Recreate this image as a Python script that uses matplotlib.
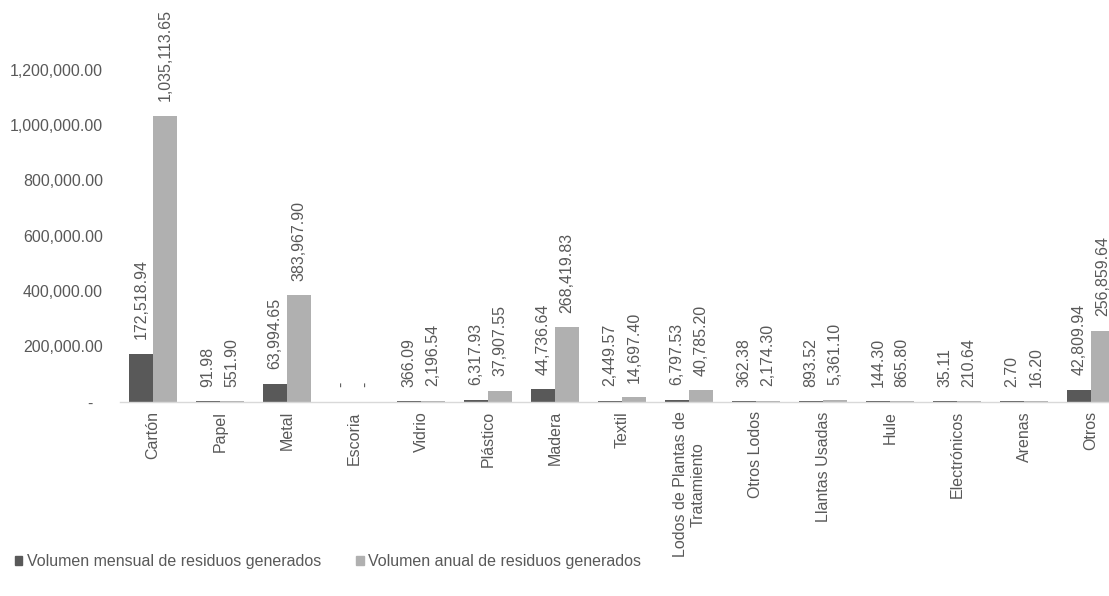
import matplotlib
matplotlib.use("Agg")
import matplotlib.pyplot as plt
from matplotlib.patches import Patch
from matplotlib.ticker import FuncFormatter
import numpy as np

categories = ["Cartón", "Papel", "Metal", "Escoria", "Vidrio", "Plástico", "Madera",
              "Textil", "Lodos de Plantas de\nTratamiento", "Otros Lodos", "Llantas Usadas",
              "Hule", "Electrónicos", "Arenas", "Otros"]
mensual = [172518.94, 91.98, 63994.65, 0, 366.09, 6317.93, 44736.64, 2449.57,
           6797.53, 362.38, 893.52, 144.30, 35.11, 2.70, 42809.94]
anual = [1035113.65, 551.90, 383967.90, 0, 2196.54, 37907.55, 268419.83, 14697.40,
         40785.20, 2174.30, 5361.10, 865.80, 210.64, 16.20, 256859.64]
series_names = ["Volumen mensual de residuos generados", "Volumen anual de residuos generados"]
yticks = [0, 200000, 400000, 600000, 800000, 1000000, 1200000]

plt.rcParams['font.family'] = ['Liberation Sans', 'DejaVu Sans']
TXT = '#595959'
C_DARK = '#595959'
C_LIGHT = '#b0b0b0'
FS = 11.5

W, H = 1109, 596
fig = plt.figure(figsize=(W / 100, H / 100), dpi=100)
left_px, right_px = 119.5, 1124.5
zero_px, top_px = 401.5, 70
ax = fig.add_axes([left_px / W, (H - zero_px) / H, (right_px - left_px) / W, (zero_px - top_px) / H])

def fmt(v):
    return "-" if v == 0 else f"{v:,.2f}"

x = np.arange(len(categories))
bw = 0.36
b1 = ax.bar(x - bw / 2, mensual, bw, color=C_DARK)
b2 = ax.bar(x + bw / 2, anual, bw, color=C_LIGHT)

for bars, vals in ((b1, mensual), (b2, anual)):
    for rect, v in zip(bars, vals):
        ax.annotate(fmt(v), (rect.get_x() + rect.get_width() / 2, rect.get_height()),
                    xytext=(0, 10.5), textcoords='offset points', rotation=90,
                    ha='center', va='bottom', fontsize=FS, color=TXT, annotation_clip=False)

ax.set_xlim(-0.5, len(categories) - 0.5)
ax.set_ylim(0, 1200000)
ax.set_yticks(yticks)
ax.yaxis.set_major_formatter(FuncFormatter(lambda v, p: "-  " if v == 0 else f"{v:,.2f}"))
ax.set_xticks(x)
ax.set_xticklabels(categories, rotation=90, fontsize=FS, color=TXT, ha='center', va='top',
                   multialignment='center')
ax.tick_params(axis='y', length=0, pad=12, labelsize=FS, labelcolor=TXT)
ax.tick_params(axis='x', length=0, pad=7)
for s in ('top', 'right', 'left'):
    ax.spines[s].set_visible(False)
ax.spines['bottom'].set_color('#d9d9d9')
ax.spines['bottom'].set_linewidth(1)

handles = [Patch(color=C_DARK), Patch(color=C_LIGHT)]
fig.legend(handles, series_names, loc='lower left', bbox_to_anchor=(15 / W, (H - 569) / H),
           ncol=2, frameon=False, fontsize=FS, labelcolor=TXT, handlelength=0.45,
           handleheight=0.45, handletextpad=0.3, columnspacing=2.2, borderaxespad=0,
           borderpad=0)

fig.savefig("out.png", dpi=100)
